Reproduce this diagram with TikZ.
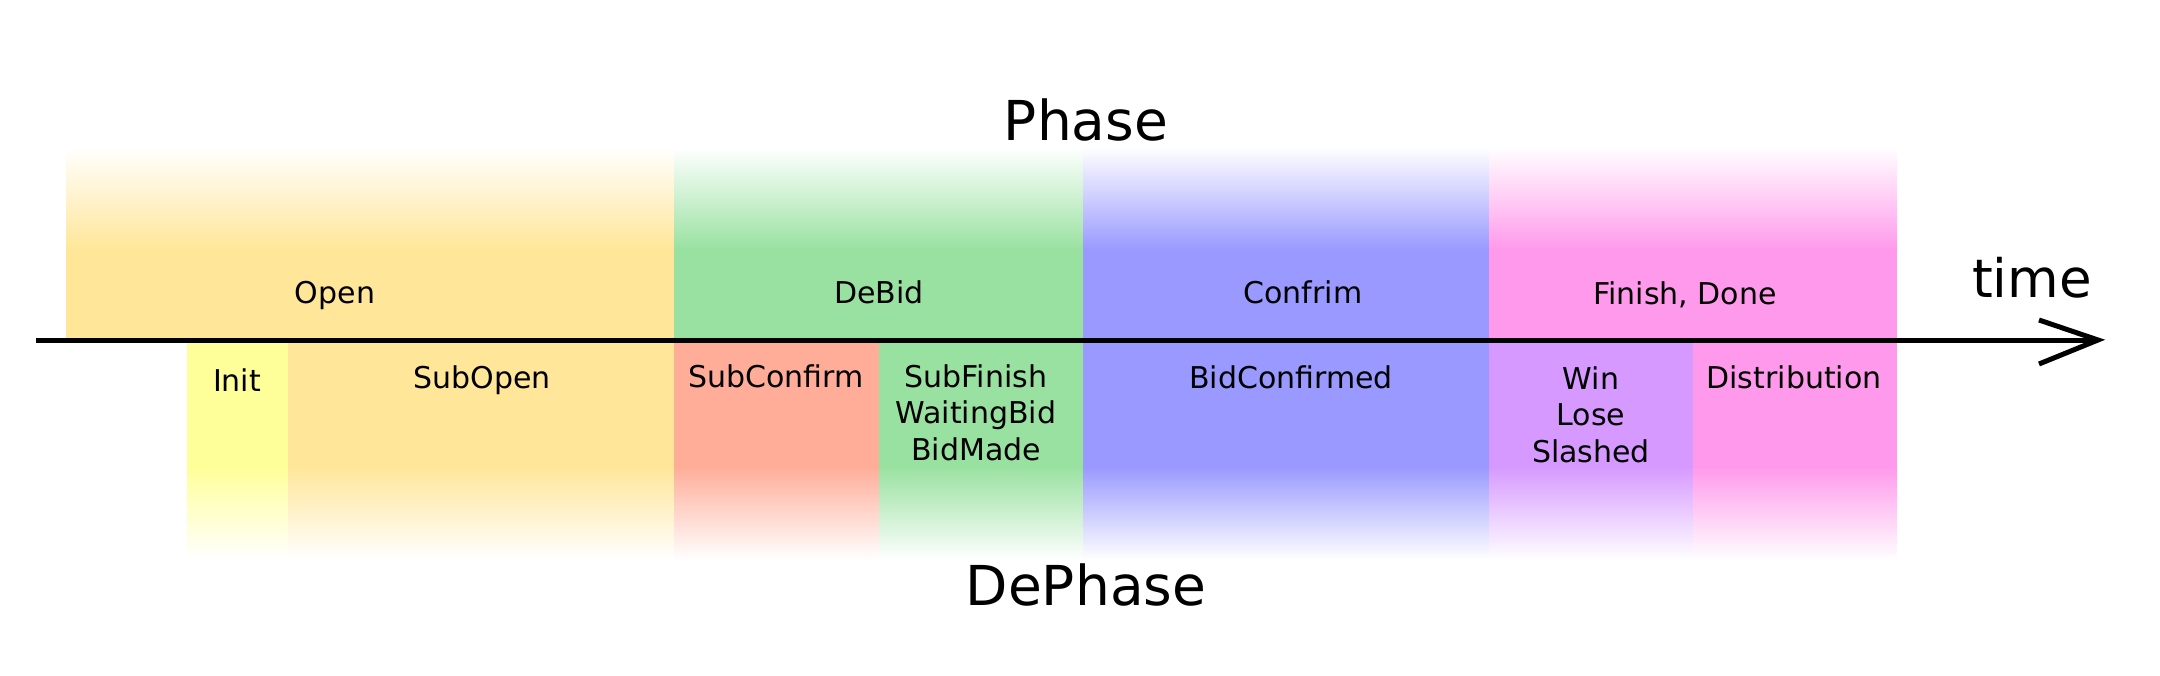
\documentclass[tikz,border=0pt]{standalone}
\usepackage{fontspec}
\setmainfont{DejaVu Sans}
\definecolor{openc}{HTML}{FFE699}
\definecolor{initc}{HTML}{FFFF99}
\definecolor{greenc}{HTML}{99E1A0}
\definecolor{bluec}{HTML}{9999FF}
\definecolor{pinkc}{HTML}{FF99EB}
\definecolor{salmonc}{HTML}{FFAD99}
\definecolor{purplec}{HTML}{D699FF}
\tikzset{
  lbl/.style={inner sep=0pt, anchor=base, align=center,
    font=\fontsize{30}{36.5}\selectfont},
  big/.style={inner sep=0pt, anchor=base, font=\fontsize{55}{60}\selectfont},
  axisline/.style={line width=5pt, black},
}
\newcommand{\topband}[3]{%
  \fill[#3] (#1,250) rectangle (#2,340);
  \shade[top color=white, bottom color=#3] (#1,147) rectangle (#2,250.5);
}
\newcommand{\botband}[3]{%
  \fill[#3] (#1,340) rectangle (#2,467);
  \shade[top color=#3, bottom color=white] (#1,466.5) rectangle (#2,560);
}
\begin{document}
\begin{tikzpicture}[x=1pt,y=-1pt]
\useasboundingbox (0,0) rectangle (2160,676);
% top phase bands
\topband{66}{674}{openc}
\topband{674}{1083}{greenc}
\topband{1083}{1489}{bluec}
\topband{1489}{1897}{pinkc}
% bottom dephase bands
\botband{187}{288}{initc}
\botband{288}{674}{openc}
\botband{674}{879}{salmonc}
\botband{879}{1083}{greenc}
\botband{1083}{1489}{bluec}
\botband{1489}{1693}{purplec}
\botband{1693}{1897}{pinkc}
% axis
\coordinate (axs) at (36,340);
\coordinate (axe) at (2098,340);
\draw[axisline] (axs) -- (axe);
\draw[line width=5pt, line join=miter, line cap=butt]
  ([shift={(-59,-20)}]axe) -- (axe) -- ([shift={(-59,24)}]axe);
% titles
\node[big] (phase) at (1086,141) {Phase};
\node[big] (dephase) at (1086,605) {DePhase};
\node[inner sep=0pt, anchor=base, font=\fontsize{53}{58}\selectfont] (time) at (2032,298) {time};
% phase labels
\node[lbl] (open) at (335,304) {Open};
\node[lbl] (debid) at (879,303) {DeBid};
\node[lbl] (confrim) at (1303,303) {Confrim};
\node[lbl] (finish) at (1685,305) {Finish, Done};
% dephase labels (multi-line nodes are placed by their last baseline)
\node[lbl] (init) at (237,391) {Init};
\node[lbl] (subopen) at (482,388) {SubOpen};
\node[lbl] (subconfirm) at (776,387) {SubConfirm};
\node[lbl] (subfinish) at (976,460) {SubFinish\\WaitingBid\\BidMade};
\node[lbl] (bidconfirmed) at (1291,388) {BidConfirmed};
\node[lbl] (win) at (1591,462) {Win\\Lose\\Slashed};
\node[lbl] (distribution) at (1794,388) {Distribution};
\end{tikzpicture}
\end{document}
